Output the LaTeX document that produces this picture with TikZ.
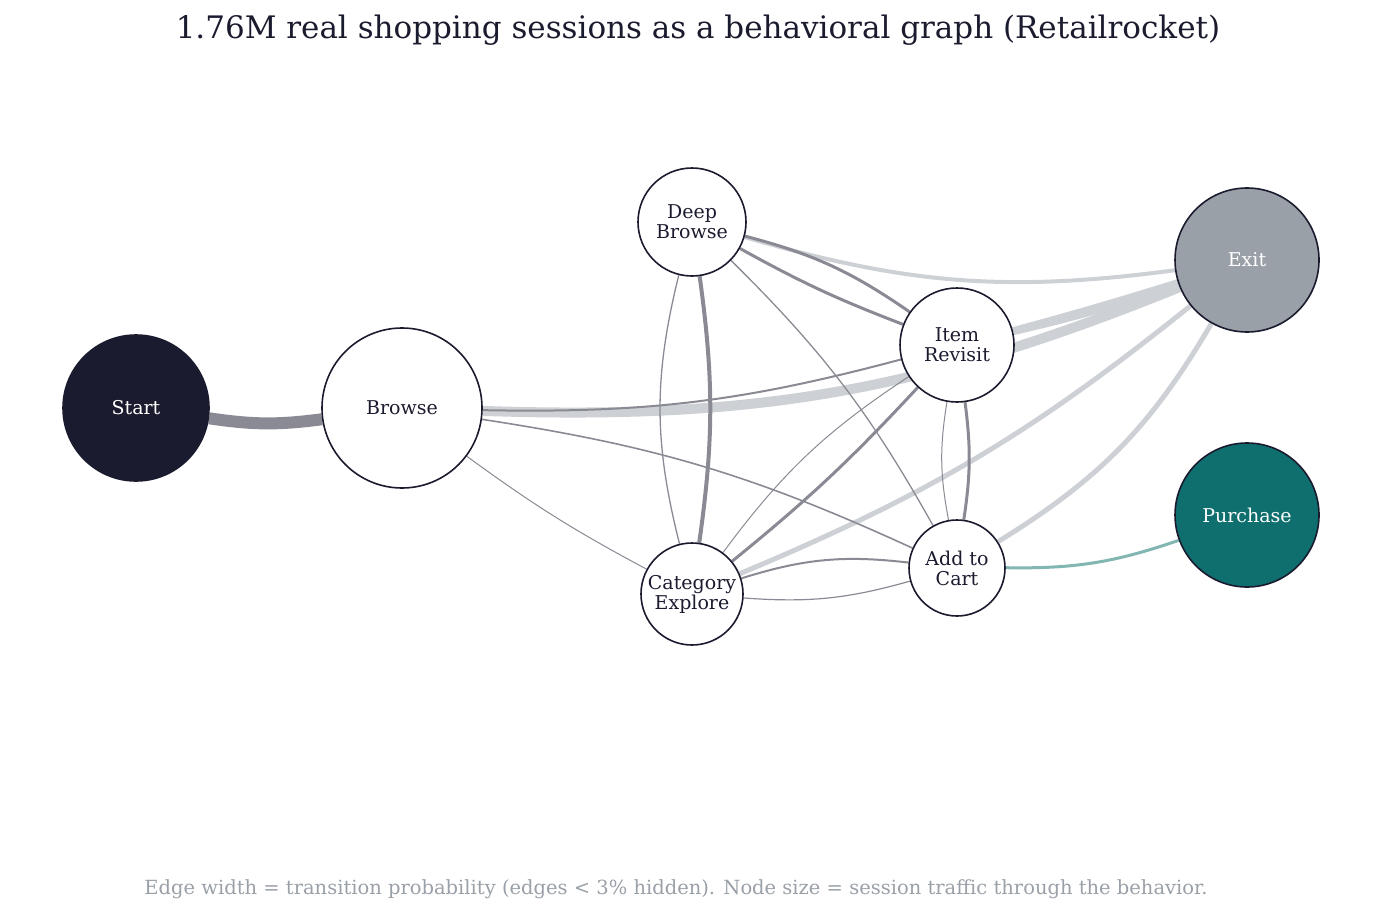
\documentclass[tikz,border=0pt]{standalone}
\usepackage{fontspec}
\setmainfont{DejaVu Serif}
\definecolor{inkdark}{HTML}{1B1B2F}
\definecolor{exitgray}{HTML}{9AA0A8}
\definecolor{buyteal}{HTML}{0F6E6E}
\definecolor{edgedark}{HTML}{8A8A94}
\definecolor{edgelight}{HTML}{CDD0D4}
\definecolor{edgeteal}{HTML}{82B6B2}
\definecolor{notegray}{HTML}{9AA0A8}
\usetikzlibrary{backgrounds,positioning}
\tikzset{
  state/.style={draw=inkdark,line width=1.6pt,circle,fill=white,inner sep=0pt,
    text=inkdark,font=\fontsize{19}{20}\selectfont,align=center},
  dk/.style={draw=edgedark},
  lt/.style={draw=edgelight},
}
\begin{document}
\begin{tikzpicture}[x=1pt,y=-1pt]
        \useasboundingbox (0,0) rectangle (1396,915);

        \node[font=\fontsize{31}{34}\selectfont,text=inkdark] (title) at (698,30) {1.76M real shopping sessions as a behavioral graph (Retailrocket)};

        \node[state,minimum size=146,fill=inkdark,text=white]    (start)    at (136,408)  {Start};
        \node[state,minimum size=160]                            (browse)   at (402,408)  {Browse};
        \node[state,minimum size=108]                            (deep)     at (692,222)  {Deep\\Browse};
        \node[state,minimum size=114]                            (revisit)  at (957,345)  {Item\\Revisit};
        \node[state,minimum size=102]                            (category) at (692,594)  {Category\\Explore};
        \node[state,minimum size=96]                             (cart)     at (957,568)  {Add to\\Cart};
        \node[state,minimum size=144,fill=exitgray,text=white]   (exit)     at (1247,260) {Exit};
        \node[state,minimum size=144,fill=buyteal,text=white]    (purchase) at (1247,515) {Purchase};

        \node[font=\fontsize{19.5}{21}\selectfont,text=notegray] (note) at (676,889) {Edge width = transition probability (edges < 3\% hidden). Node size = session traffic through the behavior.};

        \begin{scope}[on background layer]
        % light edges into exit
        \draw[lt,line width=10pt] (browse) to[bend right=12] (exit);
        \draw[lt,line width=4pt] (deep) to[bend right=12] (exit);
        \draw[lt,line width=7pt] (revisit) to[bend right=3] (exit);
        \draw[lt,line width=5pt] (revisit) to[bend right=1] (exit);
        \draw[lt,line width=5pt] (category) to[bend right=8] (exit);
        \draw[lt,line width=5pt] (cart) to[bend right=14] (exit);
        % dark edges
        \draw[dk,line width=12pt] (start) to[bend right=8] (browse);
        \draw[dk,line width=2pt] (browse) to[bend right=8] (revisit);
        \draw[dk,line width=1.6pt] (browse) to[bend left=8] (cart);
        \draw[dk,line width=1pt] (browse) to[bend right=4] (category);
        \draw[dk,line width=3pt] (deep) to[bend left=10] (revisit);
        \draw[dk,line width=3pt] (deep) to[bend right=4] (revisit);
        \draw[dk,line width=1.3pt] (deep) to[bend right=14] (category);
        \draw[dk,line width=4pt] (deep) to[bend left=8] (category);
        \draw[dk,line width=1.3pt] (deep) to[bend left=8] (cart);
        \draw[dk,line width=1pt] (revisit) to[bend right=10] (category);
        \draw[dk,line width=3pt] (revisit) to[bend left=4] (category);
        \draw[dk,line width=1pt] (revisit) to[bend right=10] (cart);
        \draw[dk,line width=3pt] (revisit) to[bend left=8] (cart);
        \draw[dk,line width=2pt] (category) to[bend left=12] (cart);
        \draw[dk,line width=1.2pt] (category) to[bend right=10] (cart);
        \draw[draw=edgeteal,line width=3pt] (cart) to[bend right=10] (purchase);
        \end{scope}

    \end{tikzpicture}
\end{document}
